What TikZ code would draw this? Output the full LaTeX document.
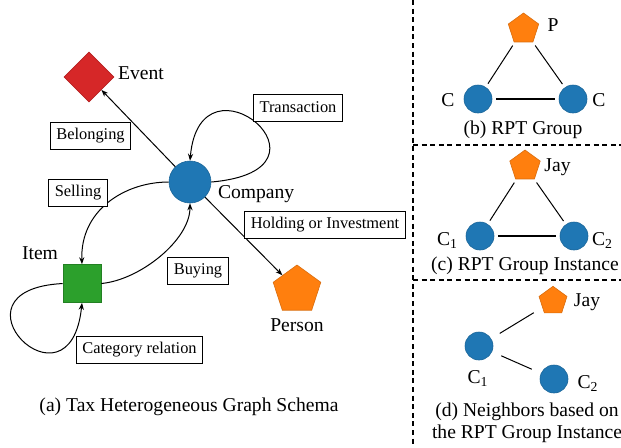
\documentclass[tikz,border=0pt]{standalone}
\usepackage{fontspec}
\setmainfont{Liberation Serif}
\usetikzlibrary{shapes.geometric,arrows.meta}

\definecolor{tabblue}{HTML}{1F77B4}
\definecolor{tabred}{HTML}{D62728}
\definecolor{tabgreen}{HTML}{2CA02C}
\definecolor{taborange}{HTML}{FF7F0E}

\begin{document}
\begin{tikzpicture}[x=0.5pt, y=-0.5pt, >={Stealth[length=3.5pt,width=2.6pt]},
    every node/.style={font=\fontsize{9.8}{11}\selectfont},
    comp/.style={circle, fill=tabblue, draw=tabblue!85!black, line width=0.3pt, inner sep=0pt, minimum size=#1},
    comp/.default=21pt,
    pers/.style={regular polygon, regular polygon sides=5, fill=taborange, draw=taborange!85!black, line width=0.3pt, inner sep=0pt, minimum size=#1},
    pers/.default=25pt,
    rel/.style={draw, fill=white, line width=0.5pt, inner xsep=3pt, inner ysep=0pt, minimum height=13.5pt, font=\fontsize{8.2}{10}\selectfont},
    link/.style={line width=0.5pt, ->},
    tie/.style={line width=0.5pt, shorten >=#1, shorten <=#1},
    tie/.default=2pt,
    sep/.style={line width=0.8pt, dash pattern=on 2.5pt off 1.8pt}]
    \useasboundingbox (0,0) rectangle (621,447);

    % (a) schema
    \node[diamond, aspect=1, fill=tabred, draw=tabred!85!black, line width=0.3pt, inner sep=0pt, minimum size=25pt] (event) at (89,77) {};
    \node[comp] (company) at (190,182) {};
    \node[rectangle, fill=tabgreen, draw=tabgreen!80!black, line width=0.3pt, inner sep=0pt, minimum size=19pt] (item) at (82,283.5) {};
    \node[pers] (person) at (297,290) {};

    \node[anchor=west] (eventlbl) at (111,73) {Event};
    \node[anchor=west] (companylbl) at (211,194) {Company};
    \node[anchor=west] (itemlbl) at (15,253) {Item};
    \node (personlbl) at (297,325) {Person};

    \draw[link] (company) -- (event);
    \draw[link] (company) -- (person);
    \draw[link] (company.east) .. controls (350,170) and (200,45) .. (company.north);
    \draw[link] (company.west) .. controls (125,182) and (80,210) .. (item.north);
    \draw[link] (item.east) .. controls (140,280) and (190,240) .. (company.south);
    \draw[link] (item.west) .. controls (-60,290) and (70,420) .. (item.south);

    \node[rel] (transaction) at (298,107.5) {Transaction};
    \node[rel] (belonging) at (90.5,135.5) {Belonging};
    \node[rel] (selling) at (78,193) {Selling};
    \node[rel] (holding) at (325,224.5) {Holding or Investment};
    \node[rel] (buying) at (198,270.5) {Buying};
    \node[rel] (category) at (139.5,350) {Category relation};

    \node (capa) at (189,407) {(a) Tax Heterogeneous Graph Schema};

    % separators
    \coordinate (vtop) at (413,0);
    \coordinate (vbot) at (413,447);
    \draw[sep] (vtop) -- (vbot);
    \coordinate (hb) at (413,145);
    \coordinate (hbe) at (621,145);
    \coordinate (hc) at (413,280);
    \coordinate (hce) at (621,280);
    \draw[sep] (hb) -- (hbe);
    \draw[sep] (hc) -- (hce);

    % (b) RPT group
    \node[pers=16pt] (bp) at (523.5,29) {};
    \node[comp=14pt] (bc1) at (478,99) {};
    \node[comp=14pt] (bc2) at (573,99) {};
    \node (bplbl) at (553,25) {P};
    \node (bc1lbl) at (448,100) {C};
    \node (bc2lbl) at (599,100) {C};
    \draw[tie] (bc1) -- (bp);
    \draw[tie] (bc2) -- (bp);
    \draw[tie, line width=1.2pt] (bc1) -- (bc2);
    \node (capb) at (523,130) {(b) RPT Group};

    % (c) RPT group instance
    \node[pers=16pt] (cp) at (525,166) {};
    \node[comp=14pt] (cc1) at (480,236) {};
    \node[comp=14pt] (cc2) at (574,236) {};
    \node (cplbl) at (557.5,167) {Jay};
    \node (cc1lbl) at (447.5,240) {C\textsubscript{1}};
    \node (cc2lbl) at (602.5,240) {C\textsubscript{2}};
    \draw[tie] (cc1) -- (cp);
    \draw[tie] (cc2) -- (cp);
    \draw[tie, line width=1.2pt] (cc1) -- (cc2);
    \node (capc) at (525,266) {(c) RPT Group Instance};

    % (d) neighbors
    \node[pers=14.7pt] (dp) at (553,301) {};
    \node[comp=14pt] (dc1) at (479,346) {};
    \node[comp=14pt] (dc2) at (554,379) {};
    \node (dplbl) at (587,302) {Jay};
    \node (dc1lbl) at (478,378) {C\textsubscript{1}};
    \node (dc2lbl) at (588,383) {C\textsubscript{2}};
    \draw[tie=5pt] (dc1) -- (dp);
    \draw[tie=5pt] (dc1) -- (dc2);
    \node[align=center] (capd) at (527,423) {(d) Neighbors based on\\the RPT Group Instance};
\end{tikzpicture}
\end{document}
